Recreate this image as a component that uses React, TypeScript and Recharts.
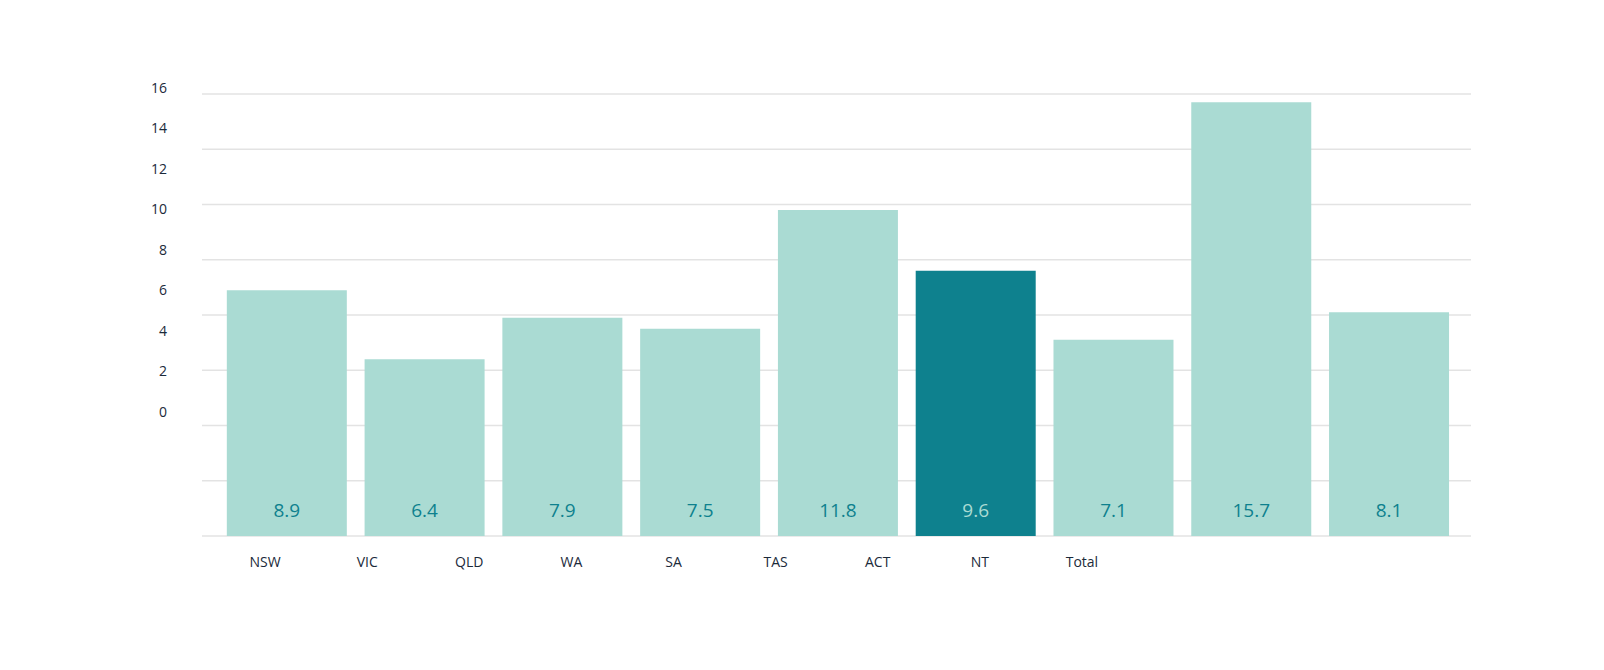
import React from "react";
import {
  BarChart,
  Bar,
  XAxis,
  YAxis,
  CartesianGrid,
  Cell,
  LabelList,
} from "recharts";

const categories = ["NSW", "VIC", "QLD", "WA", "SA", "TAS", "ACT", "NT", "Total"];
const values = [8.9, 6.4, 7.9, 7.5, 11.8, 9.6, 7.1, 15.7, 8.1];
const yTicks = [0, 2, 4, 6, 8, 10, 12, 14, 16];
const highlightIndex = 5;

const data = categories.map((name, i) => ({ name, value: values[i] }));

const LIGHT = "#aadbd3";
const DARK = "#0e818e";
const INK = "#1b2a3a";
const FONT = "'Open Sans', 'Noto Sans', sans-serif";

// plot box and where the y labels sit (they are squeezed into a shorter strip)
const PLOT_TOP = 94;
const PLOT_BOTTOM = 536;
const LABEL_BOTTOM = 412;
const LABEL_TOP = 88;
const labelScale = (LABEL_BOTTOM - LABEL_TOP) / (PLOT_BOTTOM - PLOT_TOP);

const YTick = (props: any) => {
  const { x, y, payload } = props;
  const ly = LABEL_BOTTOM + (y - PLOT_BOTTOM) * labelScale;
  return (
    <text
      x={x}
      y={ly}
      dy="0.35em"
      textAnchor="end"
      fill={INK}
      fontSize={14}
      fontFamily={FONT}
    >
      {payload.value}
    </text>
  );
};

const ValueLabel = (props: any) => {
  const { x, y, width, height, value, index } = props;
  return (
    <text
      x={x + width / 2}
      y={y + height - 26}
      dy="0.35em"
      textAnchor="middle"
      fill={index === highlightIndex ? LIGHT : DARK}
      fontSize={19}
      fontFamily={FONT}
    >
      {value}
    </text>
  );
};

const App: React.FC = () => {
  return (
    <div style={{ position: "absolute", left: 0, top: 0, background: "#fff" }}>
      <BarChart
        width={1604}
        height={670}
        data={data}
        margin={{ top: PLOT_TOP, right: 133, left: 142, bottom: 104 }}
        barCategoryGap="6.4%"
      >
        <CartesianGrid vertical={false} stroke="#e3e3e3" strokeWidth={1.5} />
        <XAxis
          xAxisId="bars"
          dataKey="name"
          hide
          height={0}
          padding={{ left: 16, right: 13 }}
        />
        <XAxis
          xAxisId="labels"
          dataKey="name"
          axisLine={false}
          tickLine={false}
          tickSize={0}
          tickMargin={21}
          height={30}
          interval={0}
          padding={{ left: 12, right: 338 }}
          tick={{ fill: INK, fontSize: 14, fontFamily: FONT }}
        />
        <YAxis
          domain={[0, 16]}
          ticks={yTicks}
          width={60}
          axisLine={false}
          tickLine={false}
          tickSize={0}
          tickMargin={35}
          interval={0}
          tick={<YTick />}
        />
        <Bar xAxisId="bars" dataKey="value" isAnimationActive={false}>
          {data.map((_, i) => (
            <Cell key={i} fill={i === highlightIndex ? DARK : LIGHT} />
          ))}
          <LabelList dataKey="value" content={<ValueLabel />} />
        </Bar>
      </BarChart>
    </div>
  );
};

export default App;
